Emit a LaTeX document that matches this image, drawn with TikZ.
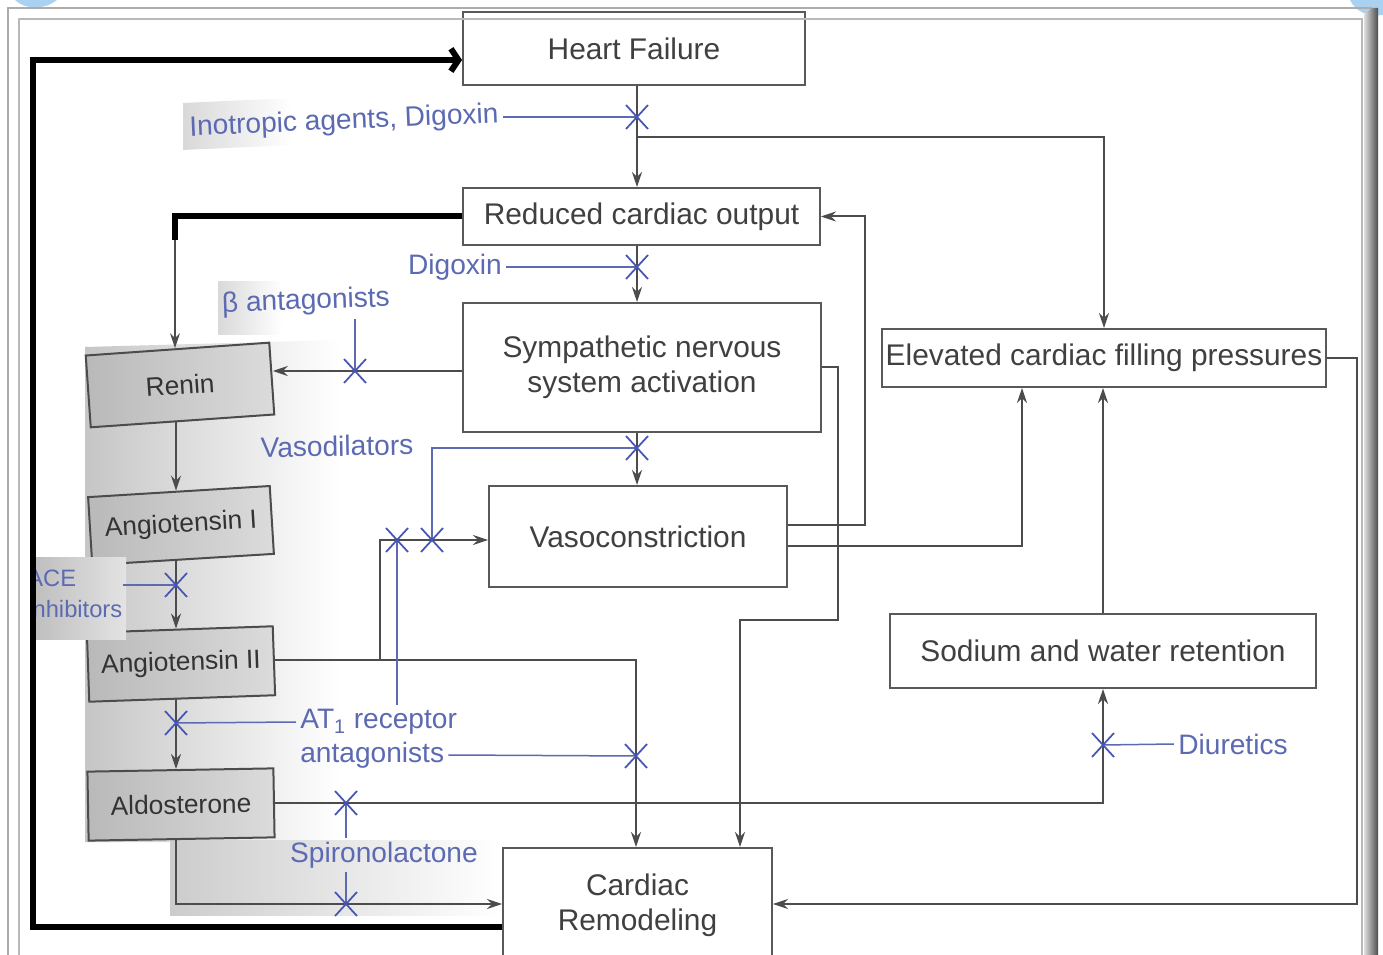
\documentclass[tikz,border=0pt]{standalone}
\usepackage{fontspec}
\setmainfont{Liberation Sans}
\usetikzlibrary{arrows.meta}

\definecolor{drugblue}{RGB}{92,106,178}
\definecolor{xblue}{RGB}{70,85,180}
\definecolor{skyrim}{RGB}{170,210,240}

\newcommand*\boxfont{\fontsize{17}{20}\selectfont}
\newcommand*\raasfont{\fontsize{15}{18}\selectfont}
\newcommand*\drugfont{\fontsize{16}{19}\selectfont}

\tikzset{
  box/.style={draw=black!65, line width=0.04cm, fill=white, text=black!75, font=\boxfont, inner sep=0pt, align=center},
  raas/.style={draw=black!70, line width=0.04cm, left color=gray!55, right color=gray!28, text=black!80, font=\raasfont, inner sep=0pt},
  drug/.style={text=drugblue, font=\drugfont, inner sep=0.08cm},
  arr/.style={draw=black!70, line width=0.04cm, -{Stealth[length=0.3cm,width=0.2cm,inset=0.1cm]}},
  link/.style={draw=black!70, line width=0.04cm},
  inh/.style={draw=drugblue, line width=0.03cm},
  xmark/.style={draw=xblue, line width=0.035cm},
  fb/.style={draw=black, line width=0.12cm},
}

\begin{document}
\begin{tikzpicture}[x=0.02cm,y=-0.02cm]
\useasboundingbox (0,0) rectangle (1383,955);
\clip (0,0) rectangle (1383,955);
\fill[white] (0,0) rectangle (1383,955);

% grey panel behind the RAAS cascade
\shade[left color=gray!45, right color=white] (85,347) -- (340,340) -- (340,842) -- (85,842) -- cycle;
\shade[left color=gray!40, right color=white] (170,840) rectangle (500,915);
% patches behind labels
\shade[left color=gray!30, right color=white] (183,103) -- (292,98) -- (292,145) -- (183,150) -- cycle;
\shade[left color=gray!30, right color=white] (218,282) rectangle (282,335);

% Boxes
\node[box, minimum width=6.84cm, minimum height=1.46cm] (hf) at (634,48.5) {Heart Failure};
\node[box, minimum width=7.14cm, minimum height=1.14cm] (rco) at (641.5,216.5) {Reduced cardiac output};
\node[box, minimum width=7.16cm, minimum height=2.58cm] (sns) at (642,367.5) {Sympathetic nervous\\system activation};
\node[box, minimum width=5.96cm, minimum height=2.02cm] (vaso) at (638,536.5) {Vasoconstriction};
\node[box, minimum width=8.88cm, minimum height=1.16cm] (ecfp) at (1104,358) {Elevated cardiac filling pressures};
\node[box, minimum width=8.52cm, minimum height=1.48cm] (swr) at (1103,651) {Sodium and water retention};
\node[box, minimum width=5.38cm, minimum height=2.28cm] (crm) at (637.5,905) {Cardiac\\Remodeling};

% RAAS cascade
\node[raas, rotate=4, minimum width=3.68cm, minimum height=1.44cm] (renin) at (180,385) {Renin};
\node[raas, rotate=3.5, minimum width=3.64cm, minimum height=1.36cm] (ang1) at (181,525.5) {Angiotensin I};
\node[raas, rotate=2, minimum width=3.72cm, minimum height=1.38cm] (ang2) at (181,664) {Angiotensin II};
\node[raas, rotate=1, minimum width=3.72cm, minimum height=1.38cm] (aldo) at (181,804.5) {Aldosterone};

% Drug labels
\node[drug, rotate=2.5] (ino) at (344,122) {Inotropic agents, Digoxin};
\node[drug] (dig) at (455,267) {Digoxin};
\node[drug, rotate=2] (beta) at (306,302) {β antagonists};
\node[drug, rotate=1] (vdil) at (337,446) {Vasodilators};
\node[drug, anchor=west] (at1a) at (296,722) {AT\textsubscript{1} receptor};
\node[drug, anchor=west] (at1b) at (296,755) {antagonists};
\node[drug] (spiro) at (384,855) {Spironolactone};
\node[drug] (diur) at (1233,744) {Diuretics};
\begin{scope}
  \clip (36,550) rectangle (140,650);
  \shade[left color=gray!50, right color=gray!22] (36,558) rectangle (126,640);
  \node[drug, inner sep=0pt, anchor=west, align=left, font=\fontsize{13.5}{18}\selectfont] (ace) at (27,594) {ACE\\inhibitors};
\end{scope}

% Block points and bends
\coordinate (c1) at (637,117);
\coordinate (c2) at (637,267);
\coordinate (c3) at (355,371);
\coordinate (c4) at (637,448);
\coordinate (c5) at (432,540);
\coordinate (c6) at (397,540);
\coordinate (c7) at (176,585);
\coordinate (c8) at (176,723);
\coordinate (c9) at (636,756);
\coordinate (c10) at (346,803);
\coordinate (c11) at (346,904);
\coordinate (c12) at (1103,745);
\coordinate (j1) at (637,137);
\coordinate (j2) at (380,660);
\coordinate (k1) at (175,240);
\coordinate (s1) at (838,620);
\coordinate (s2) at (740,620);
\coordinate (v1) at (865,525);
\coordinate (v2) at (1022,546);
\coordinate (e1) at (1357,904);
\coordinate (f1) at (33,927);
\coordinate (f2) at (33,60);

% Connectors
\draw[arr] (hf.south -| c1) -- (rco.north -| c1);
\draw[arr] (j1) -| (ecfp.north);
\draw[arr] (rco.south -| c2) -- (sns.north -| c2);
\draw[fb] (rco.west) -| (k1);
\draw[arr] (k1) -- (renin.north -| k1);
\draw[arr] (sns.west |- c3) -- (renin.east |- c3);
\draw[arr] (sns.south -| c4) -- (vaso.north -| c4);
\draw[arr] (sns.east) -| (s1) -- (s2) -- (crm.north -| s2);
\draw[arr] (vaso.east |- v1) -- (v1) |- (rco.east);
\draw[arr] (vaso.east |- v2) -| (ecfp.south -| v2);
\draw[arr] (swr.north) -- (ecfp.south -| swr.north);
\draw[arr] (ecfp.east) -| (e1) -- (crm.east |- e1);
\draw[arr] (renin.south -| c7) -- (ang1.north -| c7);
\draw[arr] (ang1.south -| c7) -- (ang2.north -| c7);
\draw[arr] (ang2.south -| c7) -- (aldo.north -| c7);
\draw[link] (ang2.east |- j2) -- (j2);
\draw[arr] (j2) |- (vaso.west |- c5);
\draw[arr] (j2) -| (crm.north -| c9);
\draw[arr] (aldo.east |- c10) -| (swr.south);
\draw[arr] (aldo.south -| c7) |- (crm.west |- c11);
\draw[fb, -{Straight Barb[length=0.15cm,width=0.45cm]}] (crm.west |- f1) -- (f1) |- (hf.west |- f2);

% Drug actions
\draw[inh] (ino.east |- c1) -- (c1);
\draw[inh] (dig.east) -- (c2);
\draw[inh] (beta.south -| c3) -- (c3);
\draw[inh] (c4) -| (c5);
\draw[inh] (at1a.north -| c6) -- (c6);
\draw[inh] (at1a.west) -- (c8);
\draw[inh] (at1b.east) -- (c9);
\draw[inh] (ace.east |- c7) -- (c7);
\draw[inh] (spiro.north -| c10) -- (c10);
\draw[inh] (spiro.south -| c11) -- (c11);
\draw[inh] (diur.west) -- (c12);
\foreach \i in {1,...,12}
  \draw[xmark] ([shift={(-11,-12)}]c\i) -- ([shift={(11,12)}]c\i)
               ([shift={(-11,12)}]c\i) -- ([shift={(11,-12)}]c\i);

% Frame
\fill[skyrim] (15,0) .. controls (25,10) and (45,10) .. (57,0) -- cycle;
\fill[skyrim] (1350,0) .. controls (1356,12) and (1368,17) .. (1383,15) -- (1383,0) -- cycle;
\draw[gray!65, line width=0.05cm] (8,960) -- (8,8) -- (1372,8);
\draw[gray!55, line width=0.05cm] (19,960) -- (19,19) -- (1362,19) -- (1362,960);
\shade[left color=gray!25, right color=black!70] (1364,14) -- (1372,8) -- (1378,8) -- (1378,960) -- (1364,960) -- cycle;
\end{tikzpicture}
\end{document}
